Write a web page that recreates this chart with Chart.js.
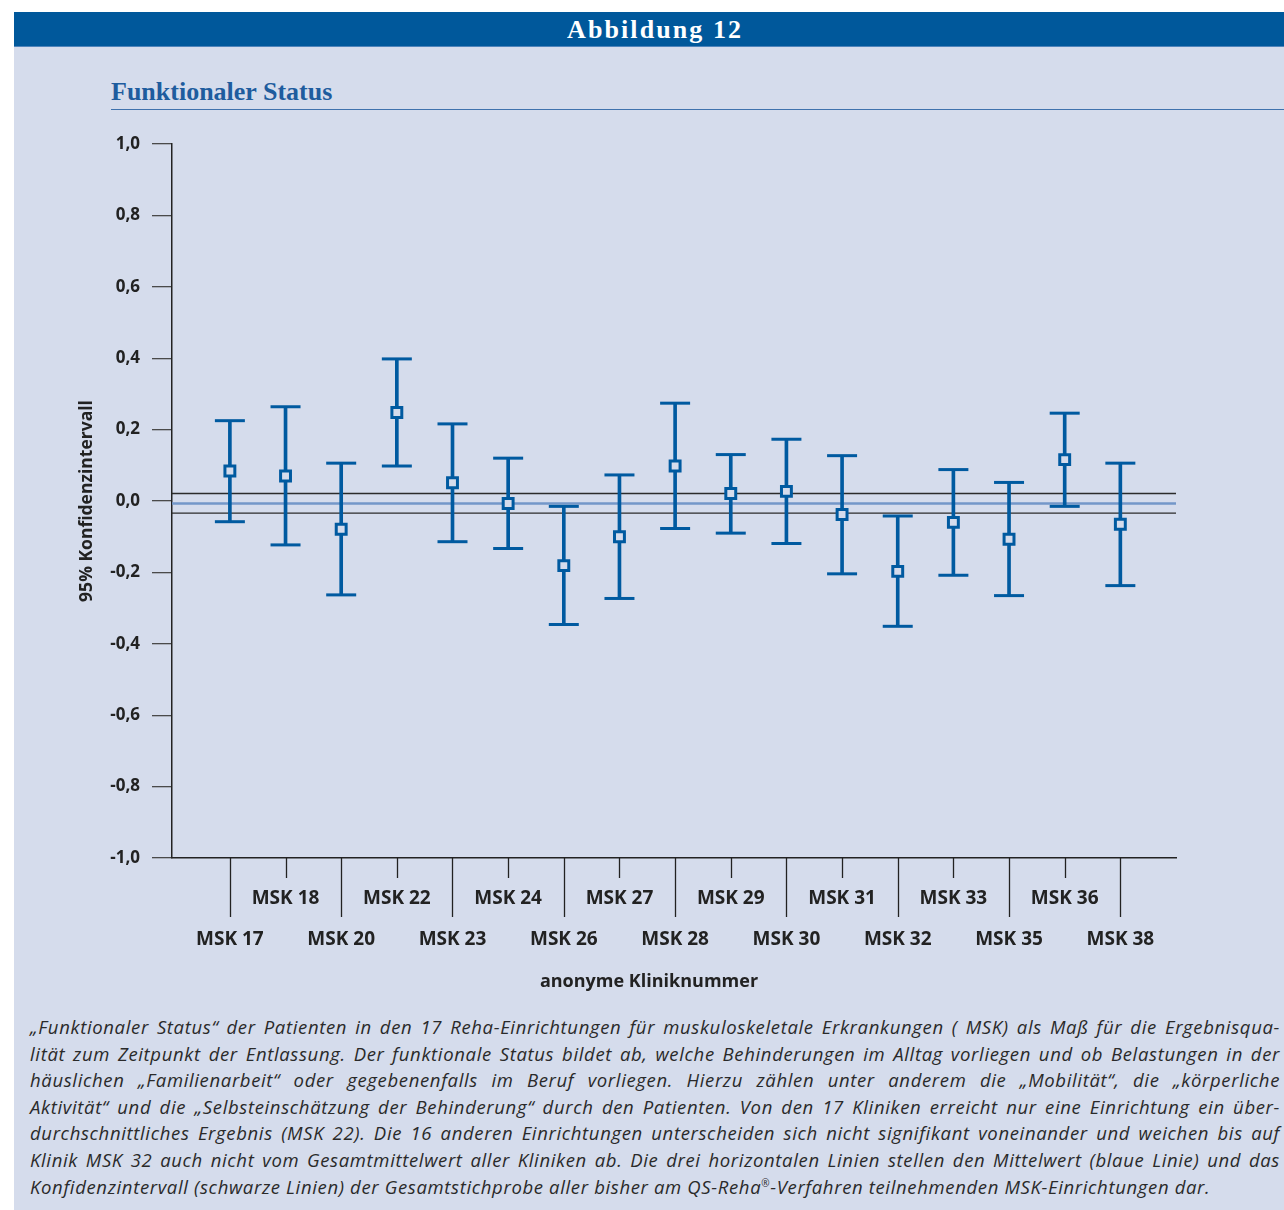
<!DOCTYPE html>
<html lang="de">
<head>
<meta charset="utf-8">
<title>Abbildung 12 – Funktionaler Status</title>
<script src="https://cdn.jsdelivr.net/npm/chart.js@4/dist/chart.umd.min.js"></script>
<style>
  html, body { margin: 0; padding: 0; background: #ffffff; }
  body { width: 1284px; height: 1210px; position: relative; overflow: hidden; }
  #bar {
    position: absolute; left: 14px; top: 12px; width: 1270px; height: 35px;
    background: #00589b; border-bottom: 1px solid #4f84bb; box-sizing: border-box;
  }
  #bar span {
    position: absolute; left: 553px; top: 0; line-height: 35px;
    font-family: "Liberation Serif", "DejaVu Serif", serif; font-weight: bold;
    font-size: 26px; letter-spacing: 2.1px; color: #ffffff;
  }
  #panel {
    position: absolute; left: 14px; top: 47px; width: 1270px; height: 1163px;
    background: #d5dcec;
  }
  #title {
    position: absolute; left: 111px; top: 76px; line-height: 32px;
    font-family: "Liberation Serif", "DejaVu Serif", serif; font-weight: bold;
    font-size: 26px; color: #1e5c9e;
  }
  #rule {
    position: absolute; left: 111px; top: 109px; width: 1173px; height: 0;
    border-top: 1.5px solid #3f72ad;
  }
  #chartBox { position: absolute; left: 0; top: 120px; width: 1284px; height: 880px; }
  #xTitle {
    position: absolute; left: 14px; width: 1270px; top: 967px; line-height: 26px;
    text-align: center; font-family: "Open Sans", "Noto Sans", sans-serif;
    font-weight: bold; font-size: 18px; color: #222;
  }
  #caption {
    position: absolute; left: 30px; top: 1014px; width: 1250px;
    font-family: "Open Sans", "Noto Sans", sans-serif; font-style: italic;
    font-size: 18.5px; letter-spacing: 0.65px; line-height: 26.6px; color: #2a2a2a;
  }
  #caption div { white-space: nowrap; text-align: justify; text-align-last: justify; }
  #caption div.last { text-align-last: left; }
</style>
</head>
<body>
<div id="bar"><span>Abbildung 12</span></div>
<div id="panel"></div>
<div id="title">Funktionaler Status</div>
<div id="rule"></div>
<div id="chartBox"><canvas id="chart" width="1284" height="880"></canvas></div>
<div id="xTitle">anonyme Kliniknummer</div>
<div id="caption">
  <div>„Funktionaler Status“ der Patienten in den 17 Reha-Einrichtungen für muskuloskeletale Erkrankungen ( MSK) als Maß für die Ergebnisqua-</div>
  <div>lität zum Zeitpunkt der Entlassung. Der funktionale Status bildet ab, welche Behinderungen im Alltag vorliegen und ob Belastungen in der</div>
  <div>häuslichen „Familienarbeit“ oder gegebenenfalls im Beruf vorliegen. Hierzu zählen unter anderem die „Mobilität“, die „körperliche</div>
  <div>Aktivität“ und die „Selbsteinschätzung der Behinderung“ durch den Patienten. Von den 17 Kliniken erreicht nur eine Einrichtung ein über-</div>
  <div>durchschnittliches Ergebnis (MSK 22). Die 16 anderen Einrichtungen unterscheiden sich nicht signifikant voneinander und weichen bis auf</div>
  <div>Klinik MSK 32 auch nicht vom Gesamtmittelwert aller Kliniken ab. Die drei horizontalen Linien stellen den Mittelwert (blaue Linie) und das</div>
  <div class="last">Konfidenzintervall (schwarze Linien) der Gesamtstichprobe aller bisher am QS-Reha<sup style="font-size:10px;line-height:0">®</sup>-Verfahren teilnehmenden MSK-Einrichtungen dar.</div>
</div>

<script>
// Kliniken (anonymisiert)
const clinics = ['MSK 17', 'MSK 18', 'MSK 20', 'MSK 22', 'MSK 23', 'MSK 24', 'MSK 26', 'MSK 27', 'MSK 28',
                 'MSK 29', 'MSK 30', 'MSK 31', 'MSK 32', 'MSK 33', 'MSK 35', 'MSK 36', 'MSK 38'];
// Klinikmittelwerte (adjustiert) und 95%-Konfidenzgrenzen
const clinicMeans = [0.084, 0.070, -0.079, 0.248, 0.051, -0.007, -0.181, -0.100, 0.098,
                     0.021, 0.027, -0.038, -0.197, -0.060, -0.107, 0.116, -0.065];
const ciUpper = [0.225, 0.264, 0.106, 0.398, 0.216, 0.120, -0.015, 0.073, 0.274,
                 0.130, 0.173, 0.127, -0.042, 0.088, 0.052, 0.246, 0.106];
const ciLower = [-0.058, -0.123, -0.263, 0.098, -0.114, -0.133, -0.346, -0.273, -0.077,
                 -0.090, -0.119, -0.204, -0.351, -0.208, -0.265, -0.015, -0.237];
// Gesamtstichprobe: Mittelwert und Konfidenzintervall
const overallMean = -0.007;
const overallUpper = 0.021;
const overallLower = -0.034;
// Achsenbeschriftung
const yTicks = [-1.0, -0.8, -0.6, -0.4, -0.2, 0.0, 0.2, 0.4, 0.6, 0.8, 1.0];

const BLUE = '#005aa0';
const FILL = '#d5dcec';
const X_MIN = -1.04, X_MAX = 17;
const SANS = '"Open Sans", "Noto Sans", sans-serif';

const hLine = v => [{ x: X_MIN, y: v }, { x: X_MAX, y: v }];

// Gestaffelte Tickstriche unter der x-Achse (lang für untere, kurz für obere Beschriftungszeile)
const staggeredTicks = {
  id: 'staggeredTicks',
  afterDraw(chart) {
    const sx = chart.scales.x;
    const ctx = chart.ctx;
    ctx.save();
    ctx.strokeStyle = '#222';
    ctx.lineWidth = 1.3;
    clinics.forEach((_, i) => {
      const px = Math.round(sx.getPixelForValue(i)) + 0.5;
      const len = i % 2 === 0 ? 59 : 20;
      ctx.beginPath();
      ctx.moveTo(px, sx.top);
      ctx.lineTo(px, sx.top + len);
      ctx.stroke();
    });
    ctx.restore();
  }
};

new Chart(document.getElementById('chart'), {
  type: 'scatter',
  data: {
    datasets: [
      { type: 'line', data: hLine(overallUpper), borderColor: '#2b2b2b', borderWidth: 1.4, pointRadius: 0, order: 10 },
      { type: 'line', data: hLine(overallLower), borderColor: '#2b2b2b', borderWidth: 1.4, pointRadius: 0, order: 10 },
      { type: 'line', data: hLine(overallMean), borderColor: '#7397c9', borderWidth: 2.5, pointRadius: 0, order: 9 },
      {
        type: 'bar',
        data: clinics.map((_, i) => ({ x: i, y: [ciLower[i], ciUpper[i]] })),
        backgroundColor: BLUE, borderWidth: 0, barThickness: 3, grouped: false, order: 5
      },
      {
        data: clinics.map((_, i) => ({ x: i, y: ciUpper[i] })),
        pointStyle: 'line', pointRadius: 15, borderColor: BLUE, pointBorderWidth: 3, order: 3
      },
      {
        data: clinics.map((_, i) => ({ x: i, y: ciLower[i] })),
        pointStyle: 'line', pointRadius: 15, borderColor: BLUE, pointBorderWidth: 3, order: 3
      },
      {
        data: clinics.map((_, i) => ({ x: i, y: clinicMeans[i] })),
        pointStyle: 'rect', pointRadius: 7, backgroundColor: FILL, borderColor: BLUE,
        pointBorderWidth: 3, order: 1
      }
    ]
  },
  options: {
    responsive: false,
    animation: false,
    events: [],
    layout: { padding: { top: 24, right: 108, left: 0, bottom: 0 } },
    plugins: { legend: { display: false }, tooltip: { enabled: false } },
    scales: {
      x: {
        type: 'linear', min: X_MIN, max: X_MAX, offset: false,
        afterBuildTicks: s => { s.ticks = clinics.map((_, i) => ({ value: i })); },
        afterFit: s => { s.height = 142; },
        border: { display: true, color: '#222', width: 1.5 },
        grid: { display: true, drawOnChartArea: false, drawTicks: true, tickLength: 10, color: 'rgba(0,0,0,0)' },
        ticks: {
          autoSkip: false, maxRotation: 0, minRotation: 0, padding: 10.5,
          color: '#222',
          font: { family: SANS, weight: 'bold', size: 19, lineHeight: 41 / 19 },
          callback: v => (v % 2 === 0 ? ['', clinics[v]] : [clinics[v], ''])
        },
        title: { display: false }
      },
      y: {
        type: 'linear', min: -1, max: 1,
        afterBuildTicks: s => { s.ticks = yTicks.map(v => ({ value: v })); },
        afterFit: s => { s.width = 172; },
        border: { display: true, color: '#222', width: 1.5 },
        grid: { display: true, drawOnChartArea: false, drawTicks: true, tickLength: 20, color: '#4a4a4a', lineWidth: 1.3 },
        ticks: {
          padding: 12, color: '#222',
          font: { family: SANS, weight: 'bold', size: 17 },
          callback: v => (Math.abs(v) < 1e-9 ? 0 : v).toFixed(1).replace('.', ',')
        },
        title: {
          display: true, text: '95% Konfidenzintervall', color: '#222',
          font: { family: SANS, weight: 'bold', size: 17.5 },
          padding: { top: 77, bottom: 0 }
        }
      }
    }
  },
  plugins: [staggeredTicks]
});
</script>
</body>
</html>
